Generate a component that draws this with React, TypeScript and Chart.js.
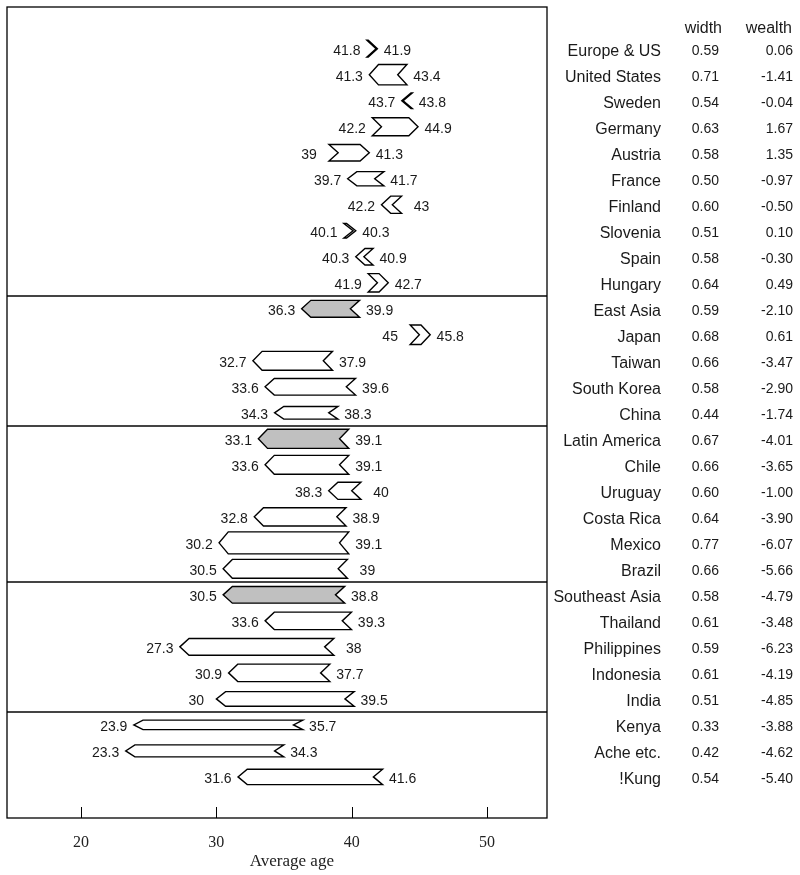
import { useEffect, useRef } from 'react';
import { Chart, registerables } from 'chart.js';

Chart.register(...registerables);

const regions = [
  'Europe & US', 'United States', 'Sweden', 'Germany', 'Austria', 'France', 'Finland', 'Slovenia', 'Spain', 'Hungary',
  'East Asia', 'Japan', 'Taiwan', 'South Korea', 'China',
  'Latin America', 'Chile', 'Uruguay', 'Costa Rica', 'Mexico', 'Brazil',
  'Southeast Asia', 'Thailand', 'Philippines', 'Indonesia', 'India',
  'Kenya', 'Ache etc.', '!Kung',
];
const lowAge = [41.8, 41.3, 43.7, 42.2, 39, 39.7, 42.2, 40.1, 40.3, 41.9, 36.3, 45, 32.7, 33.6, 34.3, 33.1, 33.6, 38.3, 32.8, 30.2, 30.5, 30.5, 33.6, 27.3, 30.9, 30, 23.9, 23.3, 31.6];
const highAge = [41.9, 43.4, 43.8, 44.9, 41.3, 41.7, 43, 40.3, 40.9, 42.7, 39.9, 45.8, 37.9, 39.6, 38.3, 39.1, 39.1, 40, 38.9, 39.1, 39, 38.8, 39.3, 38, 37.7, 39.5, 35.7, 34.3, 41.6];
const widthVals = [0.59, 0.71, 0.54, 0.63, 0.58, 0.50, 0.60, 0.51, 0.58, 0.64, 0.59, 0.68, 0.66, 0.58, 0.44, 0.67, 0.66, 0.60, 0.64, 0.77, 0.66, 0.58, 0.61, 0.59, 0.61, 0.51, 0.33, 0.42, 0.54];
const wealthVals = [0.06, -1.41, -0.04, 1.67, 1.35, -0.97, -0.50, 0.10, -0.30, 0.49, -2.10, 0.61, -3.47, -2.90, -1.74, -4.01, -3.65, -1.00, -3.90, -6.07, -5.66, -4.79, -3.48, -6.23, -4.19, -4.85, -3.88, -4.62, -5.40];
const groupRows = [0, 10, 15, 21];
const groupBreaks = [9, 14, 20, 25];
const xTicks = [20, 30, 40, 50];
const tableHeaders = ['width', 'wealth'];

const ARROW = 0.68; // arrow depth, x units
const THICK = 1.1; // row units per unit of width
const LABEL_GAP = 1.48; // x units from shape edge to label centre

function shapePoints(i: number) {
  const lo = lowAge[i];
  const hi = highAge[i];
  const h = (widthVals[i] * THICK) / 2;
  const top = i - h;
  const bot = i + h;
  const dir = wealthVals[i] >= 0 ? -1 : 1;
  const a = lo + dir * ARROW;
  const b = hi + dir * ARROW;
  const m = (a + b) / 2;
  return [
    { x: m, y: top }, { x: b, y: top }, { x: hi, y: i }, { x: b, y: bot },
    { x: a, y: bot }, { x: lo, y: i }, { x: a, y: top }, { x: m, y: top },
  ];
}

const decorPlugin = {
  id: 'decor',
  beforeDatasetsDraw(chart: any) {
    const { ctx, chartArea, scales } = chart;
    const y = scales.y;
    ctx.save();
    ctx.strokeStyle = '#444';
    ctx.lineWidth = 2;
    for (const b of groupBreaks) {
      const py = Math.round(y.getPixelForValue(b + 0.5));
      ctx.beginPath();
      ctx.moveTo(chartArea.left, py);
      ctx.lineTo(chartArea.right, py);
      ctx.stroke();
    }
    ctx.restore();
  },
  afterDatasetsDraw(chart: any) {
    const { ctx, chartArea, scales } = chart;
    const x = scales.x;
    const y = scales.y;
    ctx.save();
    // box
    ctx.strokeStyle = '#000';
    ctx.lineWidth = 1.3;
    ctx.strokeRect(chartArea.left, chartArea.top, chartArea.right - chartArea.left, chartArea.bottom - chartArea.top);
    // inward ticks
    ctx.lineWidth = 1;
    for (const t of xTicks) {
      const px = Math.round(x.getPixelForValue(t)) + 0.5;
      ctx.beginPath();
      ctx.moveTo(px, chartArea.bottom);
      ctx.lineTo(px, chartArea.bottom - 11);
      ctx.stroke();
    }
    // value labels
    ctx.fillStyle = '#1a1a1a';
    ctx.textBaseline = 'middle';
    ctx.textAlign = 'center';
    ctx.font = '14px "Liberation Sans", Arial, sans-serif';
    for (let i = 0; i < regions.length; i++) {
      const right = wealthVals[i] >= 0;
      const leftEdge = right ? lowAge[i] - ARROW : lowAge[i];
      const rightEdge = right ? highAge[i] : highAge[i] + ARROW;
      const py = y.getPixelForValue(i) + 2.5;
      ctx.fillText(String(lowAge[i]), x.getPixelForValue(leftEdge - LABEL_GAP), py);
      ctx.fillText(String(highAge[i]), x.getPixelForValue(rightEdge + LABEL_GAP), py);
    }
    // table
    const R = chartArea.right;
    ctx.textAlign = 'right';
    ctx.font = '16px "Liberation Sans", Arial, sans-serif';
    const hy = y.getPixelForValue(-0.77);
    ctx.fillText(tableHeaders[0], R + 175, hy);
    ctx.fillText(tableHeaders[1], R + 245, hy);
    for (let i = 0; i < regions.length; i++) {
      const py = y.getPixelForValue(i) + 2.5;
      ctx.font = '16px "Liberation Sans", Arial, sans-serif';
      ctx.fillText(regions[i], R + 114, py);
      ctx.font = '14px "Liberation Sans", Arial, sans-serif';
      ctx.fillText(widthVals[i].toFixed(2), R + 172, py);
      ctx.fillText(wealthVals[i].toFixed(2), R + 246, py);
    }
    ctx.restore();
  },
};

export default function App() {
  const ref = useRef<HTMLCanvasElement | null>(null);
  useEffect(() => {
    if (!ref.current) return;
    const datasets = regions.map((name, i) => ({
      label: name,
      data: shapePoints(i),
      borderColor: '#000',
      borderWidth: 1.4,
      backgroundColor: groupRows.includes(i) ? '#c0c0c0' : '#ffffff',
      fill: 'shape',
      pointRadius: 0,
      pointHoverRadius: 0,
      tension: 0,
      borderJoinStyle: 'miter',
      borderCapStyle: 'butt',
    }));
    const chart = new Chart(ref.current, {
      type: 'line',
      data: { datasets: datasets as any },
      plugins: [decorPlugin],
      options: {
        animation: false,
        responsive: true,
        maintainAspectRatio: false,
        events: [],
        layout: { padding: { left: 7, top: 7, right: 253, bottom: 0 } },
        plugins: { legend: { display: false }, tooltip: { enabled: false } },
        scales: {
          x: {
            type: 'linear',
            min: 14.53,
            max: 54.43,
            border: { display: false },
            grid: { display: false, drawTicks: false },
            afterBuildTicks: (scale: any) => {
              scale.ticks = xTicks.map((v) => ({ value: v }));
            },
            afterFit: (scale: any) => {
              scale.height = 57;
            },
            ticks: {
              padding: 15,
              color: '#222',
              font: { family: '"Liberation Serif", "Times New Roman", serif', size: 16 },
              maxRotation: 0,
              autoSkip: false,
            },
            title: {
              display: true,
              text: '       Average age',
              color: '#222',
              font: { family: '"Liberation Serif", "Times New Roman", serif', size: 17 },
              padding: { top: 0, bottom: 3 },
            },
          },
          y: {
            type: 'linear',
            display: false,
            reverse: true,
            min: -1.604,
            max: 29.58,
          },
        },
      },
    } as any);
    return () => chart.destroy();
  }, []);
  return (
    <div style={{ position: 'absolute', left: 0, top: 0, width: 800, height: 875, background: '#fff' }}>
      <canvas ref={ref} />
    </div>
  );
}
